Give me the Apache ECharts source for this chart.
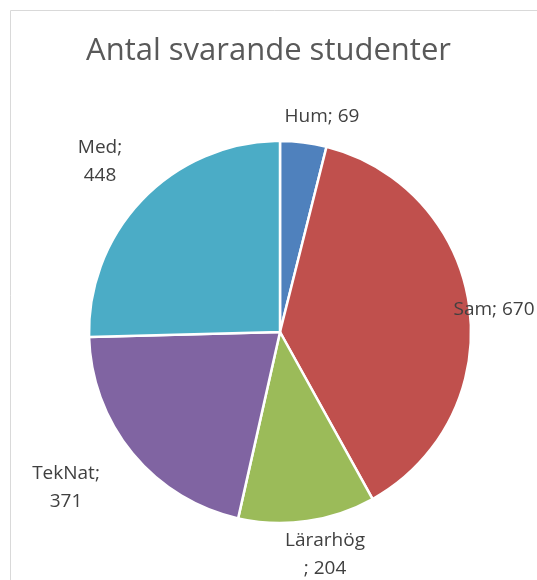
<!DOCTYPE html>
<html>
<head>
<meta charset="utf-8">
<script src="https://cdn.jsdelivr.net/npm/echarts@6/dist/echarts.min.js"></script>
<style>
  html, body { margin: 0; padding: 0; background: #fff; }
  #chart { width: 537px; height: 580px; }
</style>
</head>
<body>
<div id="chart"></div>
<script>
var categories = ['Hum', 'Sam', 'Lärarhög', 'TekNat', 'Med'];
var values = [69, 670, 204, 371, 448];
var colors = ['#4F81BD', '#C0504D', '#9BBB59', '#8064A2', '#4BACC6'];

// label text as Excel wraps it
var labelText = ['Hum; 69', 'Sam; 670', 'Lärarhög\n; 204', 'TekNat;\n371', 'Med;\n448'];
var labelPos = [[322, 117], [494, 310], [325, 555], [66, 488], [100, 162]];

var chart = echarts.init(document.getElementById('chart'));

var pieData = categories.map(function (c, i) {
  return { name: c, value: values[i], itemStyle: { color: colors[i] } };
});

chart.setOption({
  animation: false,
  title: {
    text: 'Antal svarande studenter',
    left: 'center',
    top: 31,
    textStyle: { fontFamily: 'Open Sans', fontSize: 31, fontWeight: 'normal', color: '#595959' }
  },
  graphic: [{
    type: 'rect',
    shape: { x: 10.5, y: 10.5, width: 600, height: 600 },
    style: { fill: 'none', stroke: '#d9d9d9', lineWidth: 1 },
    silent: true
  }],
  series: [{
    type: 'pie',
    center: [280, 332],
    radius: 191,
    startAngle: 90,
    clockwise: true,
    avoidLabelOverlap: false,
    data: pieData,
    itemStyle: { borderColor: '#fff', borderWidth: 2.5 },
    label: {
      show: true,
      position: 'outside',
      formatter: function (p) { return labelText[p.dataIndex]; },
      fontFamily: 'Open Sans',
      fontSize: 19,
      lineHeight: 28,
      color: '#404040',
      align: 'center'
    },
    labelLine: { show: false },
    labelLayout: function (p) {
      var pos = labelPos[p.dataIndex];
      return { x: pos[0], y: pos[1], align: 'center', verticalAlign: 'middle' };
    }
  }]
});
</script>
</body>
</html>
